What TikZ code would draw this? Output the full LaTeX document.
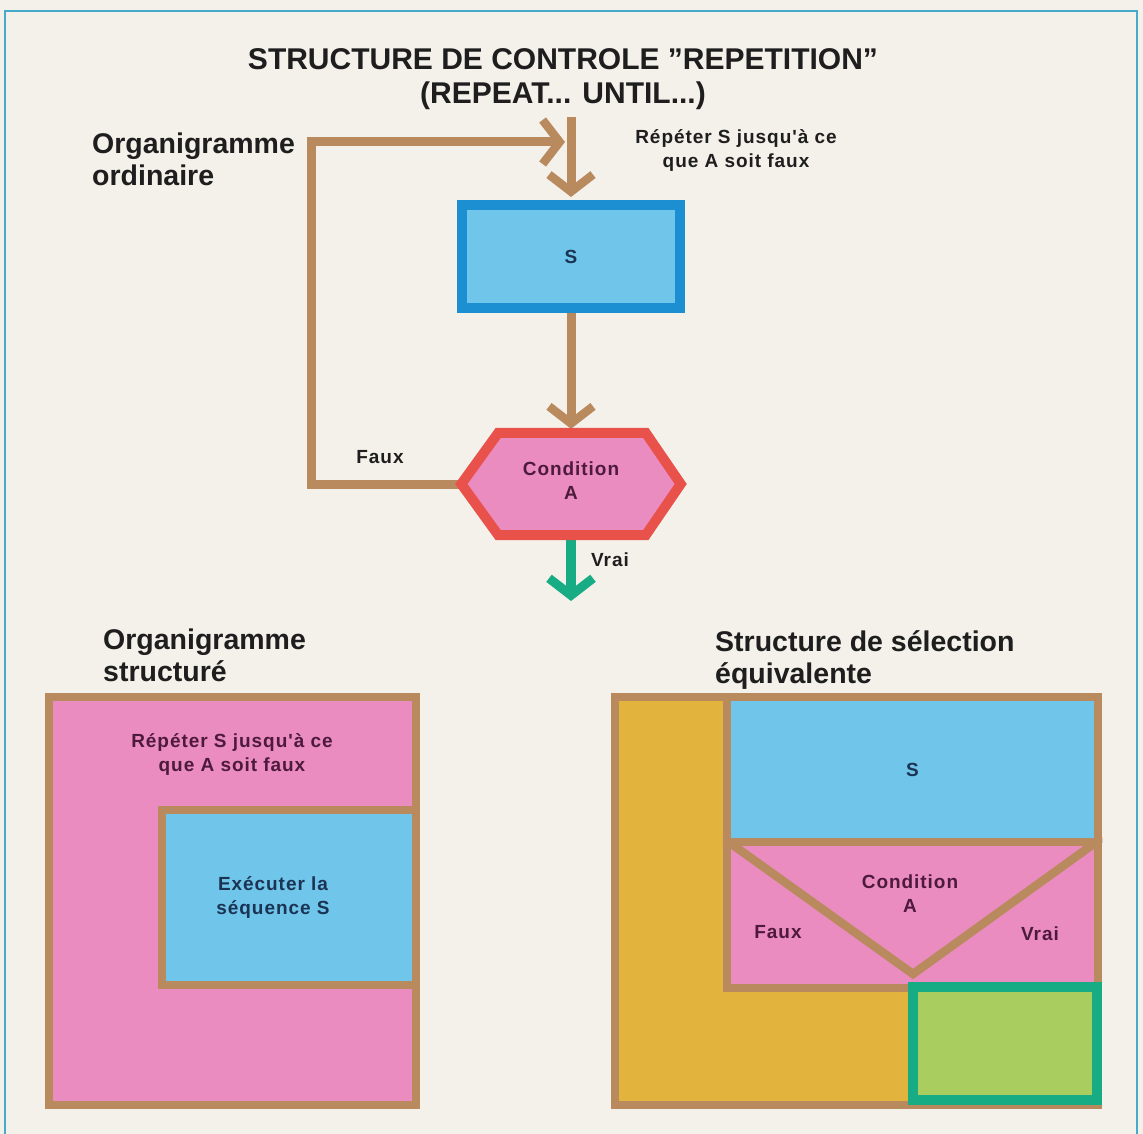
\documentclass[tikz,border=0pt]{standalone}
\usepackage{fontspec}
\setmainfont{Liberation Sans}
\newfontfamily\lblfont[LetterSpace=5]{Liberation Sans}
\usetikzlibrary{arrows.meta,calc}
\pgfdeclarelayer{bg}
\pgfsetlayers{bg,main}

\definecolor{paper}{HTML}{F4F1EB}
\definecolor{frameblue}{HTML}{46AACB}
\definecolor{ink}{HTML}{1E1E1E}
\definecolor{plum}{HTML}{4E1A3C}
\definecolor{navy}{HTML}{1B3454}
\definecolor{tan}{HTML}{B98A5E}
\definecolor{rose}{HTML}{EA8CC0}
\definecolor{sky}{HTML}{6FC5EA}
\definecolor{seqblue}{HTML}{1C8FD3}
\definecolor{hexred}{HTML}{E9524B}
\definecolor{exitgreen}{HTML}{17AC84}
\definecolor{ochre}{HTML}{E2B43E}
\definecolor{lime}{HTML}{A9CD5E}

\begin{document}
\begin{tikzpicture}[x=1pt,y=-1pt,
  title/.style={inner sep=0, anchor=north, align=center, text=ink,
    font=\fontsize{30}{34}\selectfont\bfseries},
  heading/.style={inner sep=0, anchor=north west, align=left, text=ink,
    font=\fontsize{28.5}{32}\selectfont\bfseries},
  lbl/.style={inner sep=0, align=center, text=ink,
    font=\lblfont\fontsize{19}{24}\selectfont\bfseries},
  chev/.tip={Straight Barb[length=17pt,width=44pt,line width=0pt 0.95]},
  flow/.style={draw=tan, line width=9pt, line join=miter, -chev},
  exitflow/.style={draw=exitgreen, line width=9.5pt, -chev},
  box/.style={draw=tan, line width=8.5pt, inner sep=0, line join=miter},
  seqbox/.style={draw=seqblue, fill=sky, line width=10pt, inner sep=0, text=navy,
    font=\lblfont\fontsize{19}{24}\selectfont\bfseries},
  hexborder/.style={draw=hexred, fill=rose, line width=10pt, line join=miter},
  donebox/.style={draw=exitgreen, fill=lime, line width=10pt, inner sep=0},
  frame/.style={draw=frameblue, line width=2.5pt}
]
\useasboundingbox (0,0) rectangle (1143,1134);
\begin{pgfonlayer}{bg}
  \fill[paper] (0,0) rectangle (1143,1134);
\end{pgfonlayer}
\draw[frame] (5,1134) -- (5,11) -- (1137,11) -- (1137,1134);

% title
\node[title] (title) at (563,48) {STRUCTURE DE CONTROLE "REPETITION"\\(REPEAT... UNTIL...)};

% ---- ordinary flowchart ----
\node[heading] (hord) at (92,133) {Organigramme\\ordinaire};
\coordinate (entry) at (571,117);
\coordinate (corner) at (311,142);
\coordinate (join) at (565,142);
\coordinate (exit) at (571,601);

\node[seqbox, minimum width=218pt, minimum height=103pt] (sbox) at (571,256.5) {S};

\node[inner sep=0, minimum width=219pt, minimum height=102pt] (cond) at (571,484) {};
\draw[hexborder] (cond.west) -- ($(cond.north west)+(37,0)$) -- ($(cond.north east)+(-35,0)$)
  -- (cond.east) -- ($(cond.south east)+(-35,0)$) -- ($(cond.south west)+(37,0)$) -- cycle;
\node[lbl, text=plum] (condtext) at (571,481) {Condition\\A};

\node[lbl] (toplabel) at (736,151) {Répéter S jusqu'à ce\\que A soit faux};
\node[lbl] (falselabel) at (380,457) {Faux};
\node[lbl] (truelabel) at (610,560) {Vrai};

\begin{pgfonlayer}{bg}
  \draw[flow, shorten >=3pt] (entry) -- (sbox.north);
  \draw[flow, shorten >=4pt] (sbox.south) -- (cond.north);
  \draw[flow] (cond.west) -| (corner) -- (join);
  \draw[exitflow] (cond.south) -- (exit);
\end{pgfonlayer}

% ---- structured chart ----
\node[heading] (hstruct) at (103,629) {Organigramme\\structuré};
\node[box, fill=rose, minimum width=367pt, minimum height=408pt] (lout) at (232.5,901) {};
\node[box, fill=sky, minimum width=254pt, minimum height=175pt] (lin) at (289,897.5) {};
\node[lbl, text=plum] (looptext) at (232,754) {Répéter S jusqu'à ce\\que A soit faux};
\node[lbl, text=navy] (seqtext) at (273,897) {Exécuter la\\séquence S};

% ---- equivalent selection ----
\node[heading] (hsel) at (715,630) {Structure de sélection\\équivalente};
\node[box, fill=ochre, minimum width=483pt, minimum height=408pt] (rout) at (856.5,901) {};
\node[box, fill=sky, minimum width=371pt, minimum height=145pt, text=navy,
  font=\lblfont\fontsize{19}{24}\selectfont\bfseries] (rseq) at (912.5,769.5) {S};
\node[box, fill=rose, minimum width=371pt, minimum height=146pt] (rcond) at (912.5,915) {};
\coordinate (vtip) at (913,974);
\begin{scope}
  \clip (rcond.north west) rectangle (rcond.south east);
  \draw[draw=tan, line width=8.5pt, line join=miter] (rcond.north west) -- (vtip) -- (rcond.north east);
\end{scope}
\node[lbl, text=plum] (rcondtext) at (910,894) {Condition\\A};
\node[lbl, text=plum] (rfalse) at (778,932) {Faux};
\node[lbl, text=plum] (rtrue) at (1040,934) {Vrai};
\node[donebox, minimum width=184pt, minimum height=113pt] (rdone) at (1005,1043.5) {};
\end{tikzpicture}
\end{document}
